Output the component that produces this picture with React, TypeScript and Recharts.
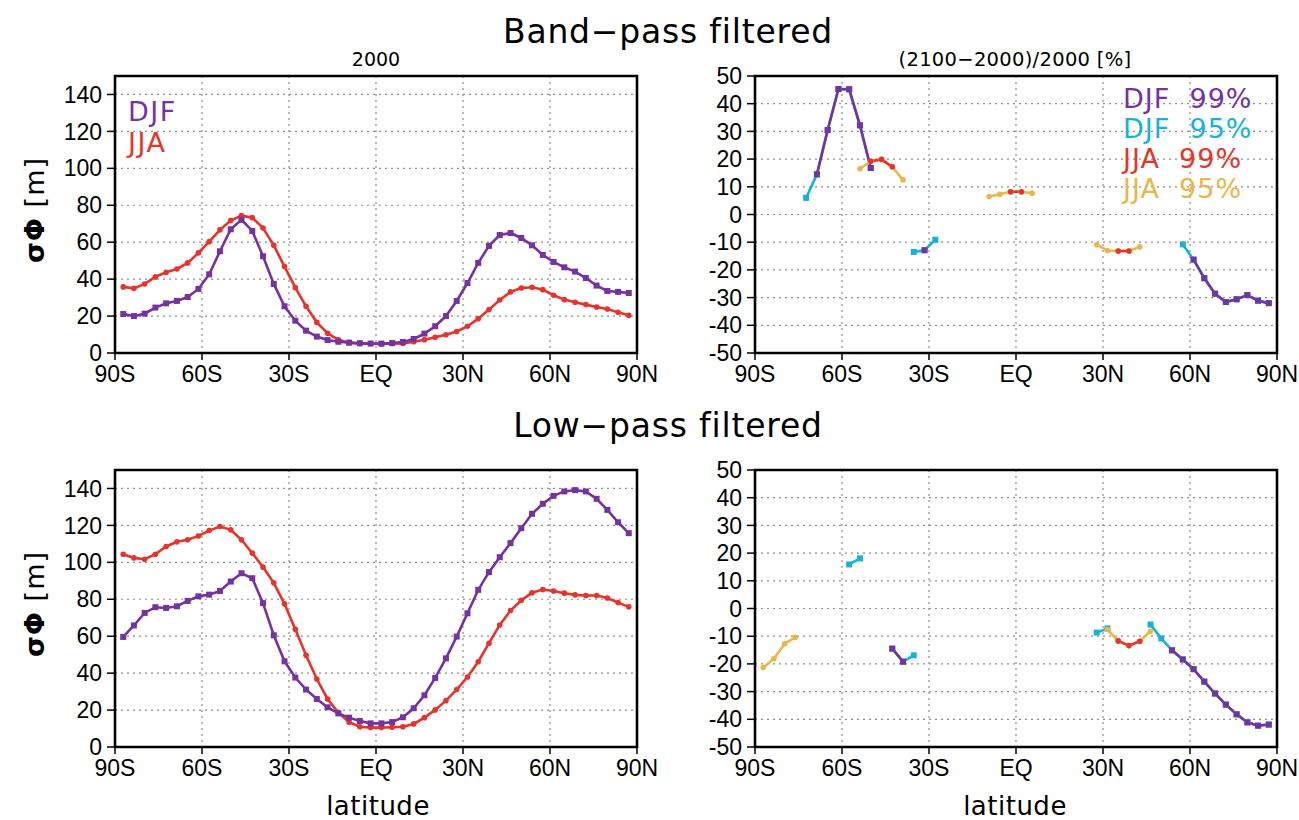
import React from 'react';
import { LineChart, Line, XAxis, YAxis, CartesianGrid, ReferenceArea } from 'recharts';

// ---------- data ----------
const _ = null;

// Gaussian-grid latitudes (deg), south to north
const lats = [
  -87.16, -83.48, -79.78, -76.07, -72.36, -68.65, -64.94, -61.23,
  -57.52, -53.81, -50.09, -46.38, -42.67, -38.96, -35.25, -31.54,
  -27.83, -24.12, -20.41, -16.7, -12.99, -9.28, -5.57, -1.86,
  1.86, 5.57, 9.28, 12.99, 16.7, 20.41, 24.12, 27.83,
  31.54, 35.25, 38.96, 42.67, 46.38, 50.09, 53.81, 57.52,
  61.23, 64.94, 68.65, 72.36, 76.07, 79.78, 83.48, 87.16,
];

const latTicks = [-90, -60, -30, 0, 30, 60, 90];
const latTickLabels = ['90S', '60S', '30S', 'EQ', '30N', '60N', '90N'];
const sigmaTicks = [0, 20, 40, 60, 80, 100, 120, 140];
const pctTicks = [-50, -40, -30, -20, -10, 0, 10, 20, 30, 40, 50];

// Band-pass, 2000 (sigma Phi, m)
const bpDJF = [
  21.1, 20.0, 21.3, 24.6, 26.9, 28.2, 30.3, 34.7,
  42.6, 55.1, 67.0, 72.1, 66.1, 52.4, 37.4, 25.3,
  17.5, 12.1, 8.9, 7.0, 6.1, 5.6, 5.3, 5.1,
  5.1, 5.4, 6.0, 7.6, 10.5, 14.5, 20.0, 28.2,
  37.9, 48.8, 58.0, 63.9, 65.0, 62.3, 58.3, 53.1,
  49.3, 46.4, 44.1, 40.6, 36.5, 33.6, 33.1, 32.5,
];
const bpJJA = [
  35.8, 35.0, 37.4, 41.2, 43.7, 45.5, 48.8, 54.2,
  60.3, 66.7, 71.7, 74.4, 73.3, 67.7, 58.3, 46.8,
  35.4, 25.3, 16.6, 10.7, 7.2, 5.6, 5.1, 5.1,
  4.9, 5.1, 5.2, 6.1, 7.2, 8.5, 9.9, 11.6,
  14.5, 18.6, 23.5, 28.7, 33.1, 35.2, 35.6, 34.3,
  31.3, 28.9, 27.5, 26.2, 24.9, 23.8, 22.0, 20.4,
];

// Low-pass, 2000 (sigma Phi, m)
const lpDJF = [
  59.6, 65.8, 72.6, 75.7, 75.3, 76.2, 79.1, 81.6,
  82.5, 84.5, 89.6, 94.1, 91.4, 77.9, 60.5, 46.4,
  37.6, 31.1, 26.0, 21.5, 18.2, 15.9, 14.1, 12.8,
  12.8, 13.5, 16.1, 21.0, 28.0, 37.4, 48.0, 59.8,
  72.4, 85.1, 94.7, 102.8, 110.4, 118.5, 126.3, 131.7,
  136.0, 138.4, 139.1, 138.4, 134.4, 128.4, 121.7, 115.8,
];
const lpJJA = [
  104.4, 102.4, 101.7, 104.4, 108.6, 111.1, 112.2, 114.3,
  117.2, 119.4, 117.6, 112.2, 105.0, 97.4, 88.9, 77.5,
  63.8, 49.7, 36.8, 26.0, 18.6, 13.4, 11.0, 10.5,
  10.5, 10.7, 11.0, 12.5, 15.9, 20.1, 25.1, 31.1,
  37.9, 46.2, 56.2, 66.1, 73.9, 79.5, 83.5, 85.3,
  84.5, 83.3, 82.4, 82.0, 82.0, 80.7, 78.2, 75.9,
];

// Band-pass change (2100-2000)/2000 [%], significant points only
const bpChgDJF95 = [
  _, _, _, _, 6.0, 14.5, 30.5, 45.3,
  45.2, 32.2, 16.8, _, _, _, -13.5, -12.9,
  -9.1, _, _, _, _, _, _, _,
  _, _, _, _, _, _, _, _,
  _, _, _, _, _, _, _, -10.8,
  -16.3, -23.0, -28.6, -31.6, -30.6, -29.1, -31.1, -32.0,
];
const bpChgDJF99 = [
  _, _, _, _, _, 14.5, 30.5, 45.3,
  45.2, 32.2, 16.8, _, _, _, _, -12.9,
  _, _, _, _, _, _, _, _,
  _, _, _, _, _, _, _, _,
  _, _, _, _, _, _, _, _,
  -16.3, -23.0, -28.6, -31.6, -30.6, -29.1, -31.1, -32.0,
];
const bpChgJJA95 = [
  _, _, _, _, _, _, _, _,
  _, 16.5, 19.2, 19.9, 17.2, 12.5, _, _,
  _, _, _, _, _, 6.5, 7.3, 8.2,
  8.2, 7.7, _, _, _, _, _, -10.9,
  -13.0, -13.2, -13.2, -11.7, _, _, _, _,
  _, _, _, _, _, _, _, _,
];
const bpChgJJA99 = [
  _, _, _, _, _, _, _, _,
  _, _, 19.2, 19.9, 17.2, _, _, _,
  _, _, _, _, _, _, _, 8.2,
  8.2, _, _, _, _, _, _, _,
  _, -13.2, -13.2, _, _, _, _, _,
  _, _, _, _, _, _, _, _,
];

// Low-pass change (2100-2000)/2000 [%], significant points only
const lpChgDJF95 = [
  _, _, _, _, _, _, _, _,
  15.9, 18.1, _, _, -14.5, -19.2, -16.9, _,
  _, _, _, _, _, _, _, _,
  _, _, _, _, _, _, _, -8.7,
  -7.2, _, _, _, -5.8, -10.8, -15.1, -18.4,
  -21.9, -26.4, -30.7, -34.7, -38.2, -41.1, -42.3, -41.9,
];
const lpChgDJF99 = [
  _, _, _, _, _, _, _, _,
  _, _, _, _, -14.5, -19.2, _, _,
  _, _, _, _, _, _, _, _,
  _, _, _, _, _, _, _, _,
  _, _, _, _, _, _, -15.1, -18.4,
  -21.9, -26.4, -30.7, -34.7, -38.2, -41.1, -42.3, -41.9,
];
const lpChgJJA95 = [
  -21.3, -18.1, -12.7, -10.4, _, _, _, _,
  _, _, _, _, _, _, _, _,
  _, _, _, _, _, _, _, _,
  _, _, _, _, _, _, _, _,
  -7.6, -11.7, -13.4, -11.8, -8.2, _, _, _,
  _, _, _, _, _, _, _, _,
];
const lpChgJJA99 = [
  _, _, _, _, _, _, _, _,
  _, _, _, _, _, _, _, _,
  _, _, _, _, _, _, _, _,
  _, _, _, _, _, _, _, _,
  _, -11.7, -13.4, -11.8, _, _, _, _,
  _, _, _, _, _, _, _, _,
];

// ---------- styling ----------
const PURPLE = '#7433a0';
const RED = '#e6332c';
const CYAN = '#17b2da';
const ORANGE = '#e9b64e';
const TICK_FONT = '"Liberation Sans", Arial, sans-serif';
const TEXT_FONT = '"DejaVu Sans", sans-serif';

const fmtLat = (v: number) => {
  const i = latTicks.indexOf(v);
  return i >= 0 ? latTickLabels[i] : '';
};

const makeSquare = (color: string) => (props: any) => {
  const { cx, cy, index, value } = props;
  if (value == null || !Number.isFinite(cx) || !Number.isFinite(cy)) return <g key={`s${index}`} />;
  return <rect key={`s${index}`} x={cx - 3} y={cy - 3} width={6} height={6} fill={color} />;
};
const makeCircle = (color: string) => (props: any) => {
  const { cx, cy, index, value } = props;
  if (value == null || !Number.isFinite(cx) || !Number.isFinite(cy)) return <g key={`c${index}`} />;
  return <circle key={`c${index}`} cx={cx} cy={cy} r={2.8} fill={color} />;
};

type Series = { values: (number | null)[]; color: string; square: boolean };

const PW = 522;
const PH = 277;
const ML = 64;
const MT = 20;
const MR = 30;
const XH = 44;

function Panel({ left, top, yDomain, yTicks, series }: { left: number; top: number; yDomain: [number, number]; yTicks: number[]; series: Series[] }) {
  const data = lats.map((lat, i) => {
    const row: any = { lat };
    series.forEach((s, k) => {
      row['s' + k] = s.values[i];
    });
    return row;
  });
  return (
    <div style={{ position: 'absolute', left: left - ML, top: top - MT }}>
      <LineChart width={ML + PW + MR} height={MT + PH + XH} data={data} margin={{ top: MT, right: MR, left: 0, bottom: 0 }}>
        <CartesianGrid stroke="#8c8c8c" strokeDasharray="2 4" strokeWidth={1.2} />
        <XAxis
          type="number"
          dataKey="lat"
          domain={[-90, 90]}
          ticks={latTicks}
          interval={0}
          tickFormatter={fmtLat}
          axisLine={false}
          tickLine={{ stroke: '#000', strokeWidth: 1.5 }}
          tickSize={7}
          tickMargin={6}
          height={XH}
          tick={{ fill: '#000', fontSize: 23, fontFamily: TICK_FONT }}
          allowDataOverflow
        />
        <YAxis
          type="number"
          domain={yDomain}
          ticks={yTicks}
          interval={0}
          axisLine={false}
          tickLine={{ stroke: '#000', strokeWidth: 1.5 }}
          tickSize={8}
          tickMargin={5}
          width={ML}
          tick={{ fill: '#000', fontSize: 23, fontFamily: TICK_FONT }}
          allowDataOverflow
        />
        {series.map((s, k) => (
          <Line
            key={k}
            type="linear"
            dataKey={'s' + k}
            stroke={s.color}
            strokeWidth={2.6}
            dot={s.square ? makeSquare(s.color) : makeCircle(s.color)}
            activeDot={false}
            connectNulls={false}
            isAnimationActive={false}
          />
        ))}
        <ReferenceArea
          x1={-90}
          x2={90}
          y1={yDomain[0]}
          y2={yDomain[1]}
          fill="none"
          fillOpacity={0}
          stroke="#000"
          strokeWidth={2.6}
          ifOverflow="visible"
        />
      </LineChart>
    </div>
  );
}

export default function App() {
  return (
    <div style={{ position: 'absolute', left: 0, top: 0, width: 1299, height: 820, background: '#fff', overflow: 'hidden' }}>
      <Panel
        left={115}
        top={76}
        yDomain={[0, 150]}
        yTicks={sigmaTicks}
        series={[
          { values: bpJJA, color: RED, square: false },
          { values: bpDJF, color: PURPLE, square: true },
        ]}
      />
      <Panel
        left={755}
        top={76}
        yDomain={[-50, 50]}
        yTicks={pctTicks}
        series={[
          { values: bpChgDJF95, color: CYAN, square: true },
          { values: bpChgDJF99, color: PURPLE, square: true },
          { values: bpChgJJA95, color: ORANGE, square: false },
          { values: bpChgJJA99, color: RED, square: false },
        ]}
      />
      <Panel
        left={115}
        top={470}
        yDomain={[0, 150]}
        yTicks={sigmaTicks}
        series={[
          { values: lpJJA, color: RED, square: false },
          { values: lpDJF, color: PURPLE, square: true },
        ]}
      />
      <Panel
        left={755}
        top={470}
        yDomain={[-50, 50]}
        yTicks={pctTicks}
        series={[
          { values: lpChgDJF95, color: CYAN, square: true },
          { values: lpChgDJF99, color: PURPLE, square: true },
          { values: lpChgJJA95, color: ORANGE, square: false },
          { values: lpChgJJA99, color: RED, square: false },
        ]}
      />
      <svg width={1299} height={820} style={{ position: 'absolute', left: 0, top: 0, pointerEvents: 'none' }} fontFamily={TEXT_FONT}>
        <text x={668} y={43} fontSize={33} letterSpacing={0.8} textAnchor="middle" fill="#000">Band−pass filtered</text>
        <text x={668} y={437} fontSize={33} letterSpacing={0.8} textAnchor="middle" fill="#000">Low−pass filtered</text>
        <text x={376} y={66} fontSize={19} textAnchor="middle" fill="#000">2000</text>
        <text x={1015} y={66} fontSize={19.5} letterSpacing={0.3} textAnchor="middle" fill="#000">(2100−2000)/2000 [%]</text>
        <text x={378} y={815} fontSize={26} letterSpacing={0.5} textAnchor="middle" fill="#000">latitude</text>
        <text x={1015} y={815} fontSize={26} letterSpacing={0.5} textAnchor="middle" fill="#000">latitude</text>
        <text x={44} y={210} fontSize={27} letterSpacing={1} textAnchor="middle" fill="#000" transform="rotate(-90 44 210)">
          <tspan fontWeight="bold">σΦ</tspan>
          <tspan> [m]</tspan>
        </text>
        <text x={44} y={604} fontSize={27} letterSpacing={1} textAnchor="middle" fill="#000" transform="rotate(-90 44 604)">
          <tspan fontWeight="bold">σΦ</tspan>
          <tspan> [m]</tspan>
        </text>
        <text x={128} y={121} fontSize={27} letterSpacing={1.5} fill={PURPLE}>DJF</text>
        <text x={128} y={152} fontSize={27} letterSpacing={1.5} fill={RED}>JJA</text>
        <text x={1123} y={108} fontSize={27} letterSpacing={1} fill={PURPLE} xmlSpace="preserve">DJF  99%</text>
        <text x={1123} y={138} fontSize={27} letterSpacing={1} fill={CYAN} xmlSpace="preserve">DJF  95%</text>
        <text x={1123} y={168} fontSize={27} letterSpacing={1} fill={RED} xmlSpace="preserve">JJA  99%</text>
        <text x={1123} y={198} fontSize={27} letterSpacing={1} fill={ORANGE} xmlSpace="preserve">JJA  95%</text>
      </svg>
    </div>
  );
}
